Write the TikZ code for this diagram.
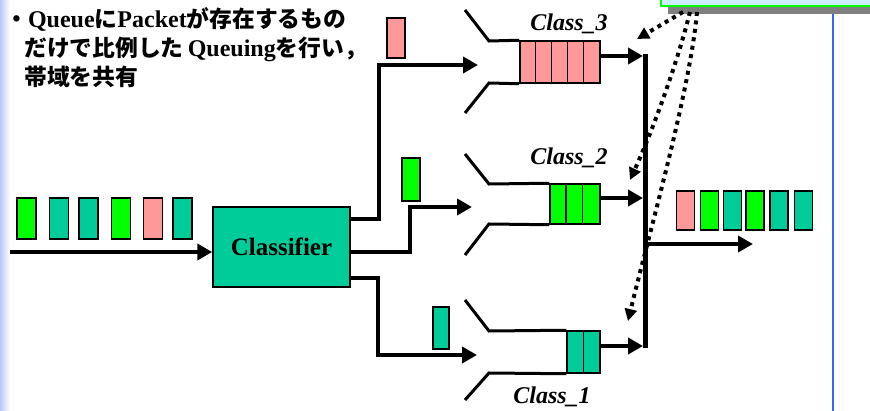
\documentclass[tikz,border=0pt]{standalone}
\usepackage{fontspec}
\setmainfont{Liberation Serif}
\newfontfamily\jp{Noto Sans CJK JP}[Scale=0.95]
\usetikzlibrary{arrows.meta,calc}

\definecolor{pktgreen}{HTML}{00FF00}
\definecolor{pktteal}{HTML}{00CC99}
\definecolor{pktpink}{HTML}{FF9999}
\definecolor{notefill}{HTML}{CCEEFF}
\definecolor{railblue}{HTML}{3366FF}
\definecolor{edgeblue}{HTML}{B8C8F8}
\definecolor{shadowgray}{HTML}{808080}

\tikzset{
  pkt/.style={draw=black, line width=1.5pt, minimum width=18pt, minimum height=40pt, inner sep=0pt},
  qbox/.style={draw=black, line width=1.5pt, inner sep=0pt},
  arr/.style={line width=4pt, -{Triangle[length=15pt,width=16pt]}},
  funnel/.style={line width=3pt},
  dots/.style={line width=4pt, dash pattern=on 4pt off 4.5pt, -{Triangle[length=12pt,width=12pt]}},
  clslabel/.style={font=\bfseries\itshape\fontsize{24}{28}\selectfont, inner sep=0pt},
  headline/.style={anchor=base west, inner sep=0pt, font=\bfseries\fontsize{24}{29}\selectfont},
  divider/.style={line width=1.5pt}
}

\begin{document}
\begin{tikzpicture}[x=1pt,y=-1pt]
\useasboundingbox (0,0) rectangle (870,411);
\clip (0,0) rectangle (870,411);
\fill[white] (0,0) rectangle (870,411);
\shade[left color=edgeblue, right color=white] (0,0) rectangle (10,411);

% note box at the top right with its shadow
\fill[shadowgray] (668,0) rectangle (880,14);
\draw[draw=pktgreen, fill=notefill, line width=2pt] (661,-10) rectangle (880,6);

% vertical rule on the right
\draw[railblue, line width=2pt] (833,14) -- (833,411);

% heading text
\node[headline] (l1) at (5,28) {{\jp ・}Queue{\jp に}Packet{\jp が存在するもの}};
\node[headline] (l2) at (24,57) {{\jp だけで比例した}\,Queuing{\jp を行い，}};
\node[headline] (l3) at (24,86) {{\jp 帯域を共有}};

% incoming packets
\node[pkt, fill=pktgreen, minimum width=19pt, minimum height=41pt] (p1) at (26.5,218.5) {};
\node[pkt, fill=pktteal,  minimum width=19pt, minimum height=41pt] (p2) at (59,218.5) {};
\node[pkt, fill=pktteal,  minimum width=19pt, minimum height=41pt] (p3) at (88.5,218.5) {};
\node[pkt, fill=pktgreen, minimum width=19pt, minimum height=41pt] (p4) at (121,218.5) {};
\node[pkt, fill=pktpink,  minimum width=19pt, minimum height=41pt] (p5) at (153,218.5) {};
\node[pkt, fill=pktteal,  minimum width=19pt, minimum height=41pt] (p6) at (182.5,218.5) {};

% classifier
\node[draw, line width=1.5pt, fill=pktteal, minimum width=137pt, minimum height=80pt,
      inner sep=0pt, font=\bfseries\fontsize{25}{30}\selectfont] (cls) at (281.5,247) {Classifier};
\coordinate (src) at (10,252);
\draw[arr] (src) -- (cls.west |- src);

% packets travelling to each class
\node[pkt, fill=pktpink] (m3pkt) at (396,38) {};
\node[pkt, fill=pktgreen, minimum height=43pt] (m2pkt) at (411,179.5) {};
\node[pkt, fill=pktteal, minimum width=16pt, minimum height=42pt] (m1pkt) at (441,328) {};

% queues
\node[qbox, fill=pktpink, minimum width=80pt, minimum height=42pt] (q3) at (560,62) {};
\foreach \i in {1,...,4}
  \draw[divider] ($(q3.north west)+(16*\i,0)$) -- ($(q3.south west)+(16*\i,0)$);
\node[qbox, fill=pktgreen, minimum width=50pt, minimum height=40pt] (q2) at (575,204) {};
\foreach \i in {1,2}
  \draw[divider] ($(q2.north west)+(16.7*\i,0)$) -- ($(q2.south west)+(16.7*\i,0)$);
\node[qbox, fill=pktteal, minimum width=33pt, minimum height=42pt] (q1) at (583.5,352) {};
\draw[divider] (q1.north) -- (q1.south);

% funnels in front of the queues
\draw[funnel] (465,10) -- (489,41) -- (q3.north west);
\draw[funnel] (465,113) -- (489,83) -- (q3.south west);
\draw[funnel] (465,154) -- (489,184) -- (q2.north west);
\draw[funnel] (465,255) -- (489,224) -- (q2.south west);
\draw[funnel] (465,300) -- (489,331) -- (q1.north west);
\draw[funnel] (465,400) -- (489,373) -- (q1.south west);

% class labels
\node[clslabel, anchor=base] (lab3) at (569,31) {Class\_3};
\node[clslabel, anchor=base] (lab2) at (569,165) {Class\_2};
\node[clslabel, anchor=base] (lab1) at (552,403) {Class\_1};

% classifier outputs
\coordinate (m3) at (478,65);
\coordinate (m2) at (472,207);
\coordinate (m1) at (477,355);
\draw[arr] ([yshift=-13pt]cls.north east) -- ++(28,0) |- (m3);
\draw[arr] ([yshift=-5pt]cls.east) -- ++(59,0) |- (m2);
\draw[arr] ([yshift=10pt]cls.south east) -- ++(27,0) |- (m1);

% merge bus
\coordinate (b3) at (643,56);
\coordinate (b2) at (643,198);
\coordinate (b1) at (643,346);
\coordinate (bt) at (645,54);
\coordinate (bb) at (645,348);
\draw[line width=5pt] (bt) -- (bb);
\draw[arr] ([yshift=6pt]q3.east) -- (b3);
\draw[arr] ([yshift=6pt]q2.east) -- (b2);
\draw[arr] ([yshift=6pt]q1.east) -- (b1);

% output link
\coordinate (bo) at (645,244);
\coordinate (out) at (753,244);
\draw[arr] (bo) -- (out);

% outgoing packets
\node[pkt, fill=pktpink,  minimum height=39pt] (o1) at (685.5,210.5) {};
\node[pkt, fill=pktgreen, minimum height=39pt] (o2) at (709.5,210.5) {};
\node[pkt, fill=pktteal,  minimum height=39pt] (o3) at (732.5,210.5) {};
\node[pkt, fill=pktgreen, minimum height=39pt] (o4) at (755,210.5) {};
\node[pkt, fill=pktteal,  minimum height=39pt] (o5) at (779,210.5) {};
\node[pkt, fill=pktteal,  minimum height=39pt] (o6) at (803.5,210.5) {};

% dotted pointers from the note
\coordinate (s1) at (683,12);
\coordinate (s2) at (690,12);
\coordinate (s3) at (697,12);
\coordinate (t1) at (637,39);
\coordinate (t2) at (630,180);
\coordinate (t3) at (628,321);
\draw[dots] (s1) -- (t1);
\draw[dots] (s2) .. controls (678,60) and (655,125) .. (t2);
\draw[dots] (s3) .. controls (690,90) and (650,230) .. (t3);
\end{tikzpicture}
\end{document}
